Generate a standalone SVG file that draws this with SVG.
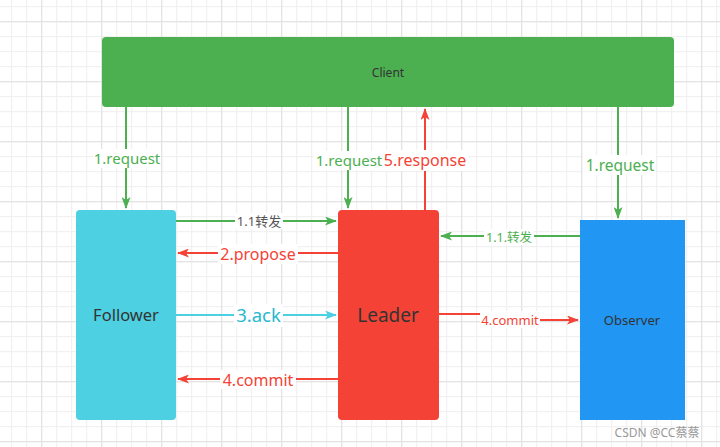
<svg xmlns="http://www.w3.org/2000/svg" width="720" height="447" viewBox="0 0 720 447">
<defs>
<pattern id="minor" x="11.2" y="6.2" width="15" height="15" patternUnits="userSpaceOnUse">
<path d="M0,0.5 H15 M0.5,0 V15" stroke="#eeeeee" stroke-width="1" fill="none"/>
</pattern>
<pattern id="major" x="41.2" y="21.2" width="60" height="60" patternUnits="userSpaceOnUse">
<path d="M0,0.5 H60 M0.5,0 V60" stroke="#e0e0e0" stroke-width="1" fill="none"/>
</pattern>
<marker id="ag" viewBox="0 0 12 9" refX="11" refY="4.5" markerWidth="12" markerHeight="9" markerUnits="userSpaceOnUse" orient="auto">
<path d="M0,0 L12,4.5 L0,9 L3,4.5 Z" fill="#4caf50"/>
</marker>
<marker id="ar" viewBox="0 0 12 9" refX="11" refY="4.5" markerWidth="12" markerHeight="9" markerUnits="userSpaceOnUse" orient="auto">
<path d="M0,0 L12,4.5 L0,9 L3,4.5 Z" fill="#f44336"/>
</marker>
<marker id="ac" viewBox="0 0 12 9" refX="11" refY="4.5" markerWidth="12" markerHeight="9" markerUnits="userSpaceOnUse" orient="auto">
<path d="M0,0 L12,4.5 L0,9 L3,4.5 Z" fill="#4dd0e1"/>
</marker>
</defs>
<style>
text{font-family:"Noto Sans","Noto Sans CJK SC",sans-serif;text-anchor:middle}
.e{fill:none;stroke-width:2}
.g{stroke:#4caf50}
.r{stroke:#f44336}
.c{stroke:#4dd0e1}
.bg{fill:#ffffff}
.node{fill:#333333}
</style>
<rect width="720" height="447" fill="#ffffff"/>
<rect width="720" height="447" fill="url(#minor)"/>
<rect width="720" height="447" fill="url(#major)"/>

<g id="client">
<rect x="102" y="37" width="572" height="70" rx="4" fill="#4caf50"/>
<text class="node" x="388" y="77" font-size="12">Client</text>
</g>
<g id="follower">
<rect x="76" y="210" width="100" height="210" rx="4" fill="#4dd0e1"/>
<text class="node" x="126" y="321" font-size="16.5">Follower</text>
</g>
<g id="leader">
<rect x="338" y="210" width="101" height="210" rx="4" fill="#f44336"/>
<text class="node" x="388" y="322" font-size="19">Leader</text>
</g>
<g id="observer">
<rect x="580" y="220" width="105" height="200" fill="#2196f3"/>
<text class="node" x="632" y="325" font-size="13">Observer</text>
</g>

<g id="connectors">
<path class="e g" d="M126,107 V208" marker-end="url(#ag)"/>
<path class="e g" d="M348,107 V208" marker-end="url(#ag)"/>
<path class="e r" d="M425,210 V109" marker-end="url(#ar)"/>
<path class="e g" d="M618,107 V218" marker-end="url(#ag)"/>
<path class="e g" d="M176,221 H336" marker-end="url(#ag)"/>
<path class="e r" d="M338,253 H178" marker-end="url(#ar)"/>
<path class="e c" d="M176,315 H336" marker-end="url(#ac)"/>
<path class="e r" d="M338,379 H178" marker-end="url(#ar)"/>
<path class="e g" d="M580,236 H441" marker-end="url(#ag)"/>
<path class="e r" d="M439,314 H509 V320 H578" marker-end="url(#ar)"/>

<rect class="bg" x="93" y="149" width="68" height="19"/>
<text x="127" y="163.5" font-size="15" fill="#4caf50">1.request</text>
<rect class="bg" x="314" y="151" width="68" height="19"/>
<text x="349" y="165.5" font-size="15" fill="#4caf50">1.request</text>
<rect class="bg" x="383" y="150" width="85" height="21"/>
<text x="425" y="166" font-size="16" fill="#f44336">5.response</text>
<rect class="bg" x="583" y="155" width="73" height="20"/>
<text x="620" y="170.5" font-size="15.5" fill="#4caf50">1.request</text>
<rect class="bg" x="235" y="213" width="48" height="16"/>
<text x="259" y="225.5" font-size="13" fill="#555555">1.1转发</text>
<rect class="bg" x="218" y="244" width="80" height="20"/>
<text x="258" y="259.5" font-size="16" fill="#f44336">2.propose</text>
<rect class="bg" x="234" y="304" width="49" height="23"/>
<text x="258.5" y="322" font-size="18.5" fill="#26b8d0">3.ack</text>
<rect class="bg" x="220" y="370" width="76" height="19"/>
<text x="258" y="385.5" font-size="16" fill="#f44336">4.commit</text>
<rect class="bg" x="484" y="229" width="50" height="16"/>
<text x="509" y="241.5" font-size="12.5" fill="#4caf50">1.1.转发</text>
<rect class="bg" x="480" y="311" width="60" height="17"/>
<text x="510" y="324.5" font-size="13" fill="#f44336">4.commit</text>
</g>
<text x="657" y="437" font-size="12" fill="#999999">CSDN @CC蔡蔡</text>
</svg>
